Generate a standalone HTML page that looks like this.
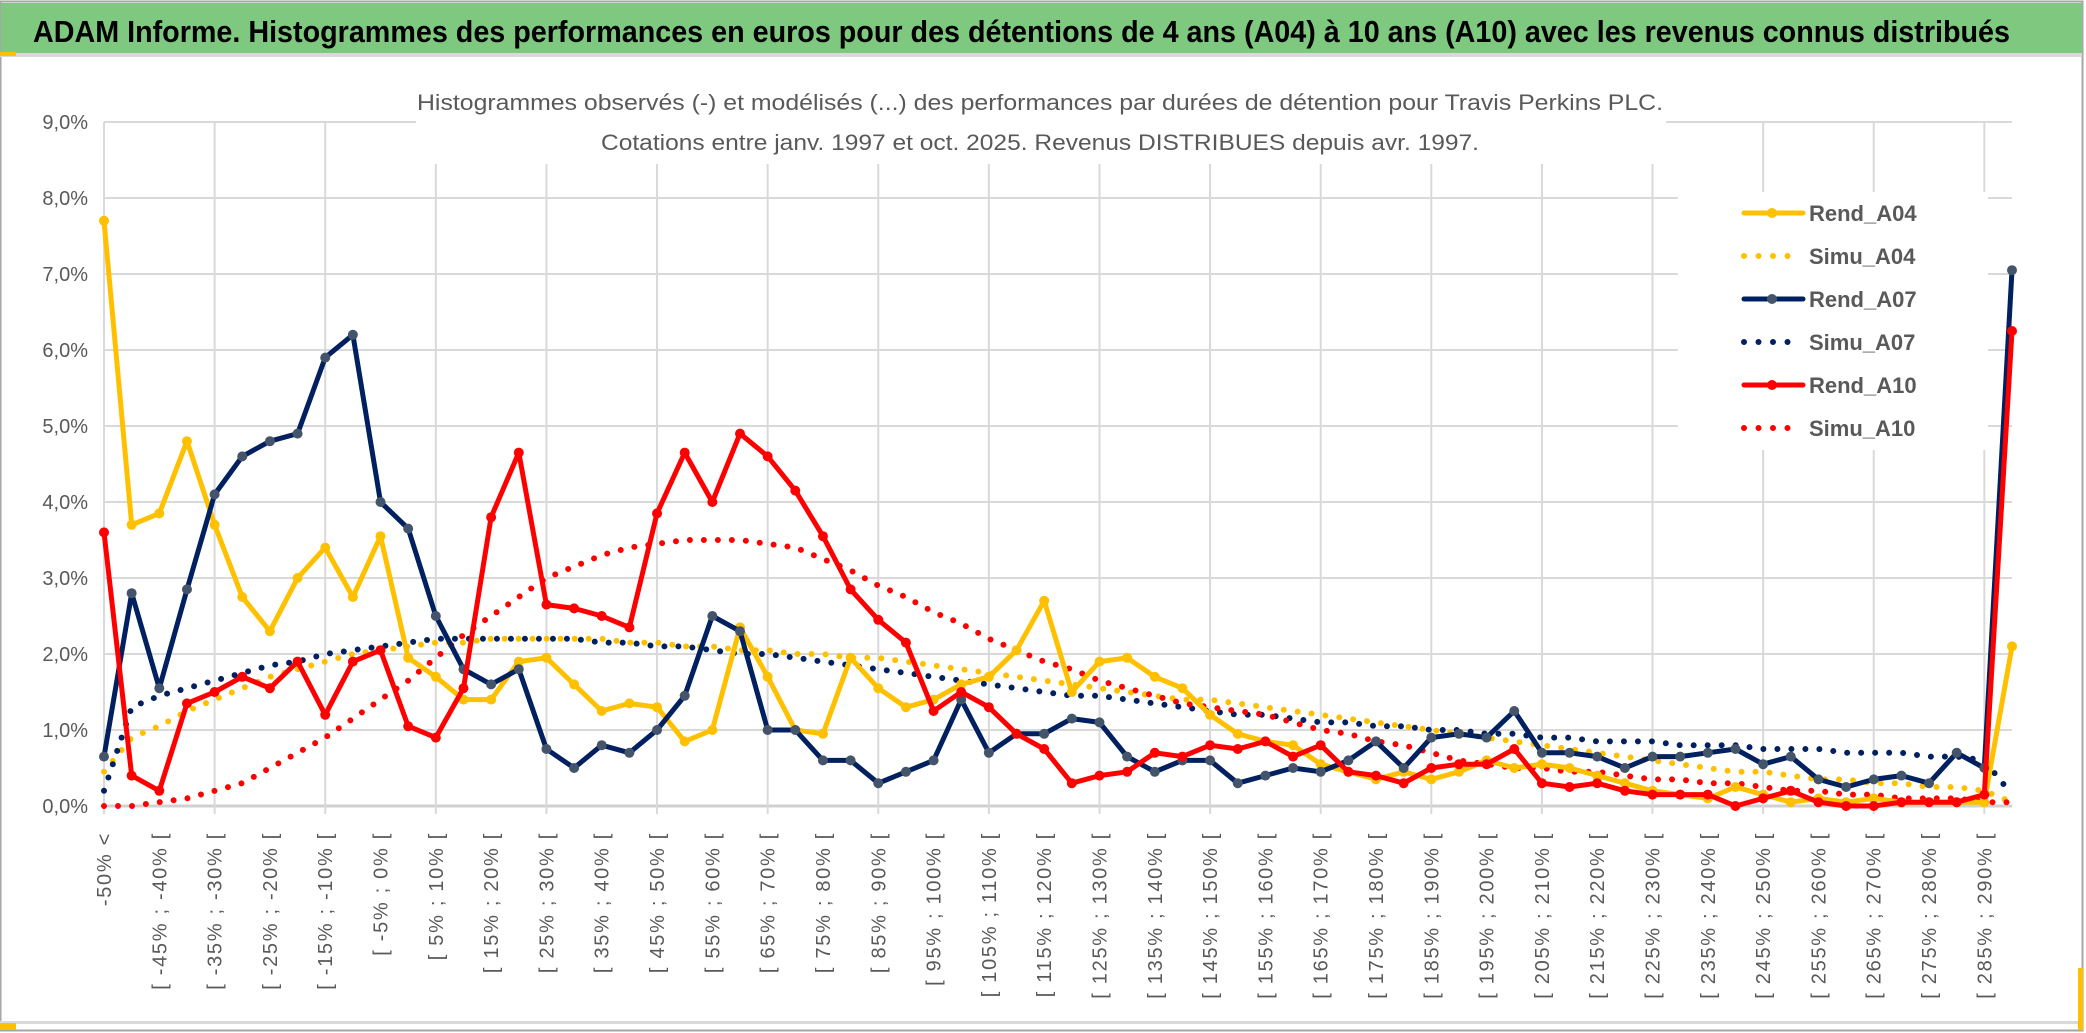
<!DOCTYPE html>
<html><head><meta charset="utf-8"><style>
html,body{margin:0;padding:0;background:#fff;}
svg{display:block;font-family:"Liberation Sans",sans-serif;}
</style></head><body>
<svg id="chart" width="2086" height="1033" viewBox="0 0 2086 1033" xmlns="http://www.w3.org/2000/svg">
<rect x="0" y="0" width="2086" height="1033" fill="#fff"/>
<rect x="0.5" y="1.5" width="2082" height="1029" fill="none" stroke="#a6a6a6" stroke-width="2"/>
<rect x="1" y="3" width="2081" height="50" fill="#7ec97f"/>
<rect x="0" y="53" width="2082" height="4" fill="#d9d9d9"/>
<rect x="0" y="52" width="16" height="4" fill="#ffc000"/>
<rect x="0" y="1021" width="2082" height="3" fill="#d9d9d9"/>
<rect x="0" y="1023" width="16" height="7" fill="#ffc000"/>
<rect x="2078" y="968" width="5" height="62" fill="#ffc000"/>
<text x="33" y="42" font-size="31" font-weight="bold" fill="#000" textLength="1977" lengthAdjust="spacingAndGlyphs">ADAM Informe. Histogrammes des performances en euros pour des détentions de 4 ans (A04) à 10 ans (A10) avec les revenus connus distribués</text>
<g id="grid"></g>
<rect x="416" y="78" width="1250" height="86" fill="#fff"/>
<text x="1040" y="110" font-size="22" fill="#595959" text-anchor="middle" textLength="1246" lengthAdjust="spacingAndGlyphs">Histogrammes observés (-) et modélisés (...) des performances par durées de détention pour Travis Perkins PLC.</text>
<text x="1040" y="150" font-size="22" fill="#595959" text-anchor="middle" textLength="878" lengthAdjust="spacingAndGlyphs">Cotations entre janv. 1997 et oct. 2025. Revenus DISTRIBUES depuis avr. 1997.</text>
<g id="yaxis"></g>
<g id="xaxis"></g>
<g id="series"></g>
<g id="legend"></g>
</svg>
<script>
const yTicks = [0,1,2,3,4,5,6,7,8,9];
const rendA04 = [7.7,3.7,3.85,4.8,3.7,2.75,2.3,3.0,3.4,2.75,3.55,1.95,1.7,1.4,1.4,1.9,1.95,1.6,1.25,1.35,1.3,0.85,1.0,2.35,1.7,1.0,0.95,1.95,1.55,1.3,1.4,1.6,1.7,2.05,2.7,1.5,1.9,1.95,1.7,1.55,1.2,0.95,0.85,0.8,0.55,0.45,0.35,0.45,0.35,0.45,0.6,0.5,0.55,0.5,0.4,0.3,0.2,0.15,0.1,0.25,0.15,0.05,0.1,0.05,0.1,0.05,0.05,0.05,0.05,2.1];
const rendA07 = [0.65,2.8,1.55,2.85,4.1,4.6,4.8,4.9,5.9,6.2,4.0,3.65,2.5,1.8,1.6,1.8,0.75,0.5,0.8,0.7,1.0,1.45,2.5,2.3,1.0,1.0,0.6,0.6,0.3,0.45,0.6,1.4,0.7,0.95,0.95,1.15,1.1,0.65,0.45,0.6,0.6,0.3,0.4,0.5,0.45,0.6,0.85,0.5,0.9,0.95,0.9,1.25,0.7,0.7,0.65,0.5,0.65,0.65,0.7,0.75,0.55,0.65,0.35,0.25,0.35,0.4,0.3,0.7,0.5,7.05];
const rendA10 = [3.6,0.4,0.2,1.35,1.5,1.7,1.55,1.9,1.2,1.9,2.05,1.05,0.9,1.55,3.8,4.65,2.65,2.6,2.5,2.35,3.85,4.65,4.0,4.9,4.6,4.15,3.55,2.85,2.45,2.15,1.25,1.5,1.3,0.95,0.75,0.3,0.4,0.45,0.7,0.65,0.8,0.75,0.85,0.65,0.8,0.45,0.4,0.3,0.5,0.55,0.55,0.75,0.3,0.25,0.3,0.2,0.15,0.15,0.15,0.0,0.1,0.2,0.05,0.0,0.0,0.05,0.05,0.05,0.15,6.25];
const simuA04 = [0.45,0.9,1.05,1.25,1.4,1.55,1.7,1.8,1.9,2.0,2.05,2.1,2.15,2.15,2.2,2.2,2.2,2.2,2.2,2.15,2.15,2.1,2.1,2.05,2.05,2.0,2.0,1.95,1.95,1.9,1.85,1.8,1.75,1.7,1.65,1.6,1.55,1.5,1.45,1.4,1.4,1.35,1.3,1.25,1.2,1.15,1.1,1.05,1.0,0.95,0.9,0.85,0.8,0.75,0.7,0.65,0.6,0.55,0.5,0.45,0.45,0.4,0.35,0.35,0.3,0.3,0.25,0.25,0.2,0.05];
const simuA07 = [0.2,1.3,1.45,1.55,1.65,1.75,1.85,1.9,2.0,2.05,2.1,2.15,2.2,2.2,2.2,2.2,2.2,2.2,2.15,2.15,2.1,2.1,2.05,2.0,2.0,1.95,1.9,1.85,1.8,1.75,1.7,1.65,1.6,1.55,1.5,1.45,1.45,1.4,1.35,1.3,1.25,1.2,1.2,1.15,1.1,1.1,1.05,1.05,1.0,1.0,0.95,0.95,0.9,0.9,0.85,0.85,0.85,0.8,0.8,0.8,0.75,0.75,0.75,0.7,0.7,0.7,0.65,0.65,0.6,0.15];
const simuA10 = [0,0,0.05,0.1,0.2,0.3,0.5,0.7,0.9,1.15,1.4,1.65,1.95,2.25,2.5,2.75,3.0,3.15,3.3,3.4,3.45,3.5,3.5,3.5,3.45,3.4,3.25,3.1,2.9,2.75,2.55,2.4,2.2,2.05,1.9,1.8,1.65,1.55,1.45,1.35,1.3,1.25,1.2,1.1,1.0,0.95,0.85,0.8,0.7,0.6,0.55,0.5,0.5,0.45,0.45,0.4,0.35,0.35,0.3,0.3,0.25,0.2,0.2,0.15,0.15,0.1,0.1,0.1,0.05,0.05];
const categories = ["-50% <"];
for (let k = 1; k < 70; k++) { const a = -50 + 5 * (k - 1); categories.push("[ " + a + "% ; " + (a + 5) + "% ["); }

const NS = "http://www.w3.org/2000/svg";
const X0 = 104, X1 = 2012, Y0 = 806, YTOP = 122;
const n = categories.length;
function xPos(i){ return X0 + (X1 - X0) * i / (n - 1); }
function yPos(v){ return Y0 - (Y0 - YTOP) * v / 9; }
function mk(tag, attrs, parent){ const e = document.createElementNS(NS, tag); for (const k in attrs) e.setAttribute(k, attrs[k]); parent.appendChild(e); return e; }

const grid = document.getElementById('grid');
yTicks.forEach(t => {
  const l = mk('line', {x1: X0, x2: X1, y1: yPos(t), y2: yPos(t), stroke: t === 0 ? '#d0d0d0' : '#d9d9d9', 'stroke-width': t === 0 ? 3 : 2}, grid);
  
  
});
for (let i = 0; i < n; i += 4) {
  const l = mk('line', {x1: xPos(i), x2: xPos(i), y1: YTOP, y2: Y0 + 8, stroke: '#d9d9d9', 'stroke-width': 2}, grid);
  
  
}
const yax = document.getElementById('yaxis');
yTicks.forEach(t => {
  const tx = mk('text', {x: 88, y: yPos(t) + 7, 'font-size': 20, fill: '#595959', 'text-anchor': 'end'}, yax);
  tx.textContent = t.toFixed(1).replace('.', ',') + '%';
  
  
});
const xax = document.getElementById('xaxis');
for (let i = 0; i < n; i += 2) {
  const x = xPos(i) + 7;
  const tx = mk('text', {x: x, y: 832, 'font-size': 20, 'letter-spacing': 1.7, fill: '#595959', 'text-anchor': 'end', transform: 'rotate(-90 ' + x + ' 832)'}, xax);
  tx.textContent = categories[i];
  
  
}
const ser = document.getElementById('series');
function pts(arr){ return arr.map((v, i) => xPos(i).toFixed(1) + ',' + yPos(v).toFixed(1)).join(' '); }
function dotted(arr, color, name){
  const p = mk('polyline', {points: pts(arr), fill: 'none', stroke: color, 'stroke-width': 6, 'stroke-linecap': 'round', 'stroke-dasharray': '0 14'}, ser);
  
  
}
function solid(arr, color, mcol, name){
  const g = mk('g', {}, ser);
  
  
  mk('polyline', {points: pts(arr), fill: 'none', stroke: color, 'stroke-width': 5, 'stroke-linejoin': 'round'}, g);
  arr.forEach((v, i) => {
    const c = mk('circle', {cx: xPos(i), cy: yPos(v), r: 5, fill: mcol}, g);
    
    
  });
}
dotted(simuA04, '#ffc000', 'simu-a04-line');
dotted(simuA07, '#002060', 'simu-a07-line');
dotted(simuA10, '#ff0000', 'simu-a10-line');
solid(rendA04, '#ffc000', '#ffc000', 'rend-a04-line');
solid(rendA07, '#002060', '#44546a', 'rend-a07-line');
solid(rendA10, '#ff0000', '#ff0000', 'rend-a10-line');

const leg = document.getElementById('legend');
const bg = mk('rect', {x: 1678, y: 192, width: 310, height: 258, fill: '#fff'}, leg);


const legItems = [['Rend_A04', '#ffc000', '#ffc000', false], ['Simu_A04', '#ffc000', '', true], ['Rend_A07', '#002060', '#44546a', false], ['Simu_A07', '#002060', '', true], ['Rend_A10', '#ff0000', '#ff0000', false], ['Simu_A10', '#ff0000', '', true]];
legItems.forEach((it, j) => {
  const y = 213 + j * 43;
  const g = mk('g', {}, leg);
  
  
  if (it[3]) {
    mk('line', {x1: 1744, x2: 1800, y1: y, y2: y, stroke: it[1], 'stroke-width': 6, 'stroke-linecap': 'round', 'stroke-dasharray': '0 14.5'}, g);
  } else {
    mk('line', {x1: 1744, x2: 1803, y1: y, y2: y, stroke: it[1], 'stroke-width': 5, 'stroke-linecap': 'round'}, g);
    mk('circle', {cx: 1772, cy: y, r: 5, fill: it[2]}, g);
  }
  const t = mk('text', {x: 1809, y: y + 8, 'font-size': 22, 'font-weight': 'bold', fill: '#595959'}, g);
  t.textContent = it[0];
});
</script>
</body></html>
